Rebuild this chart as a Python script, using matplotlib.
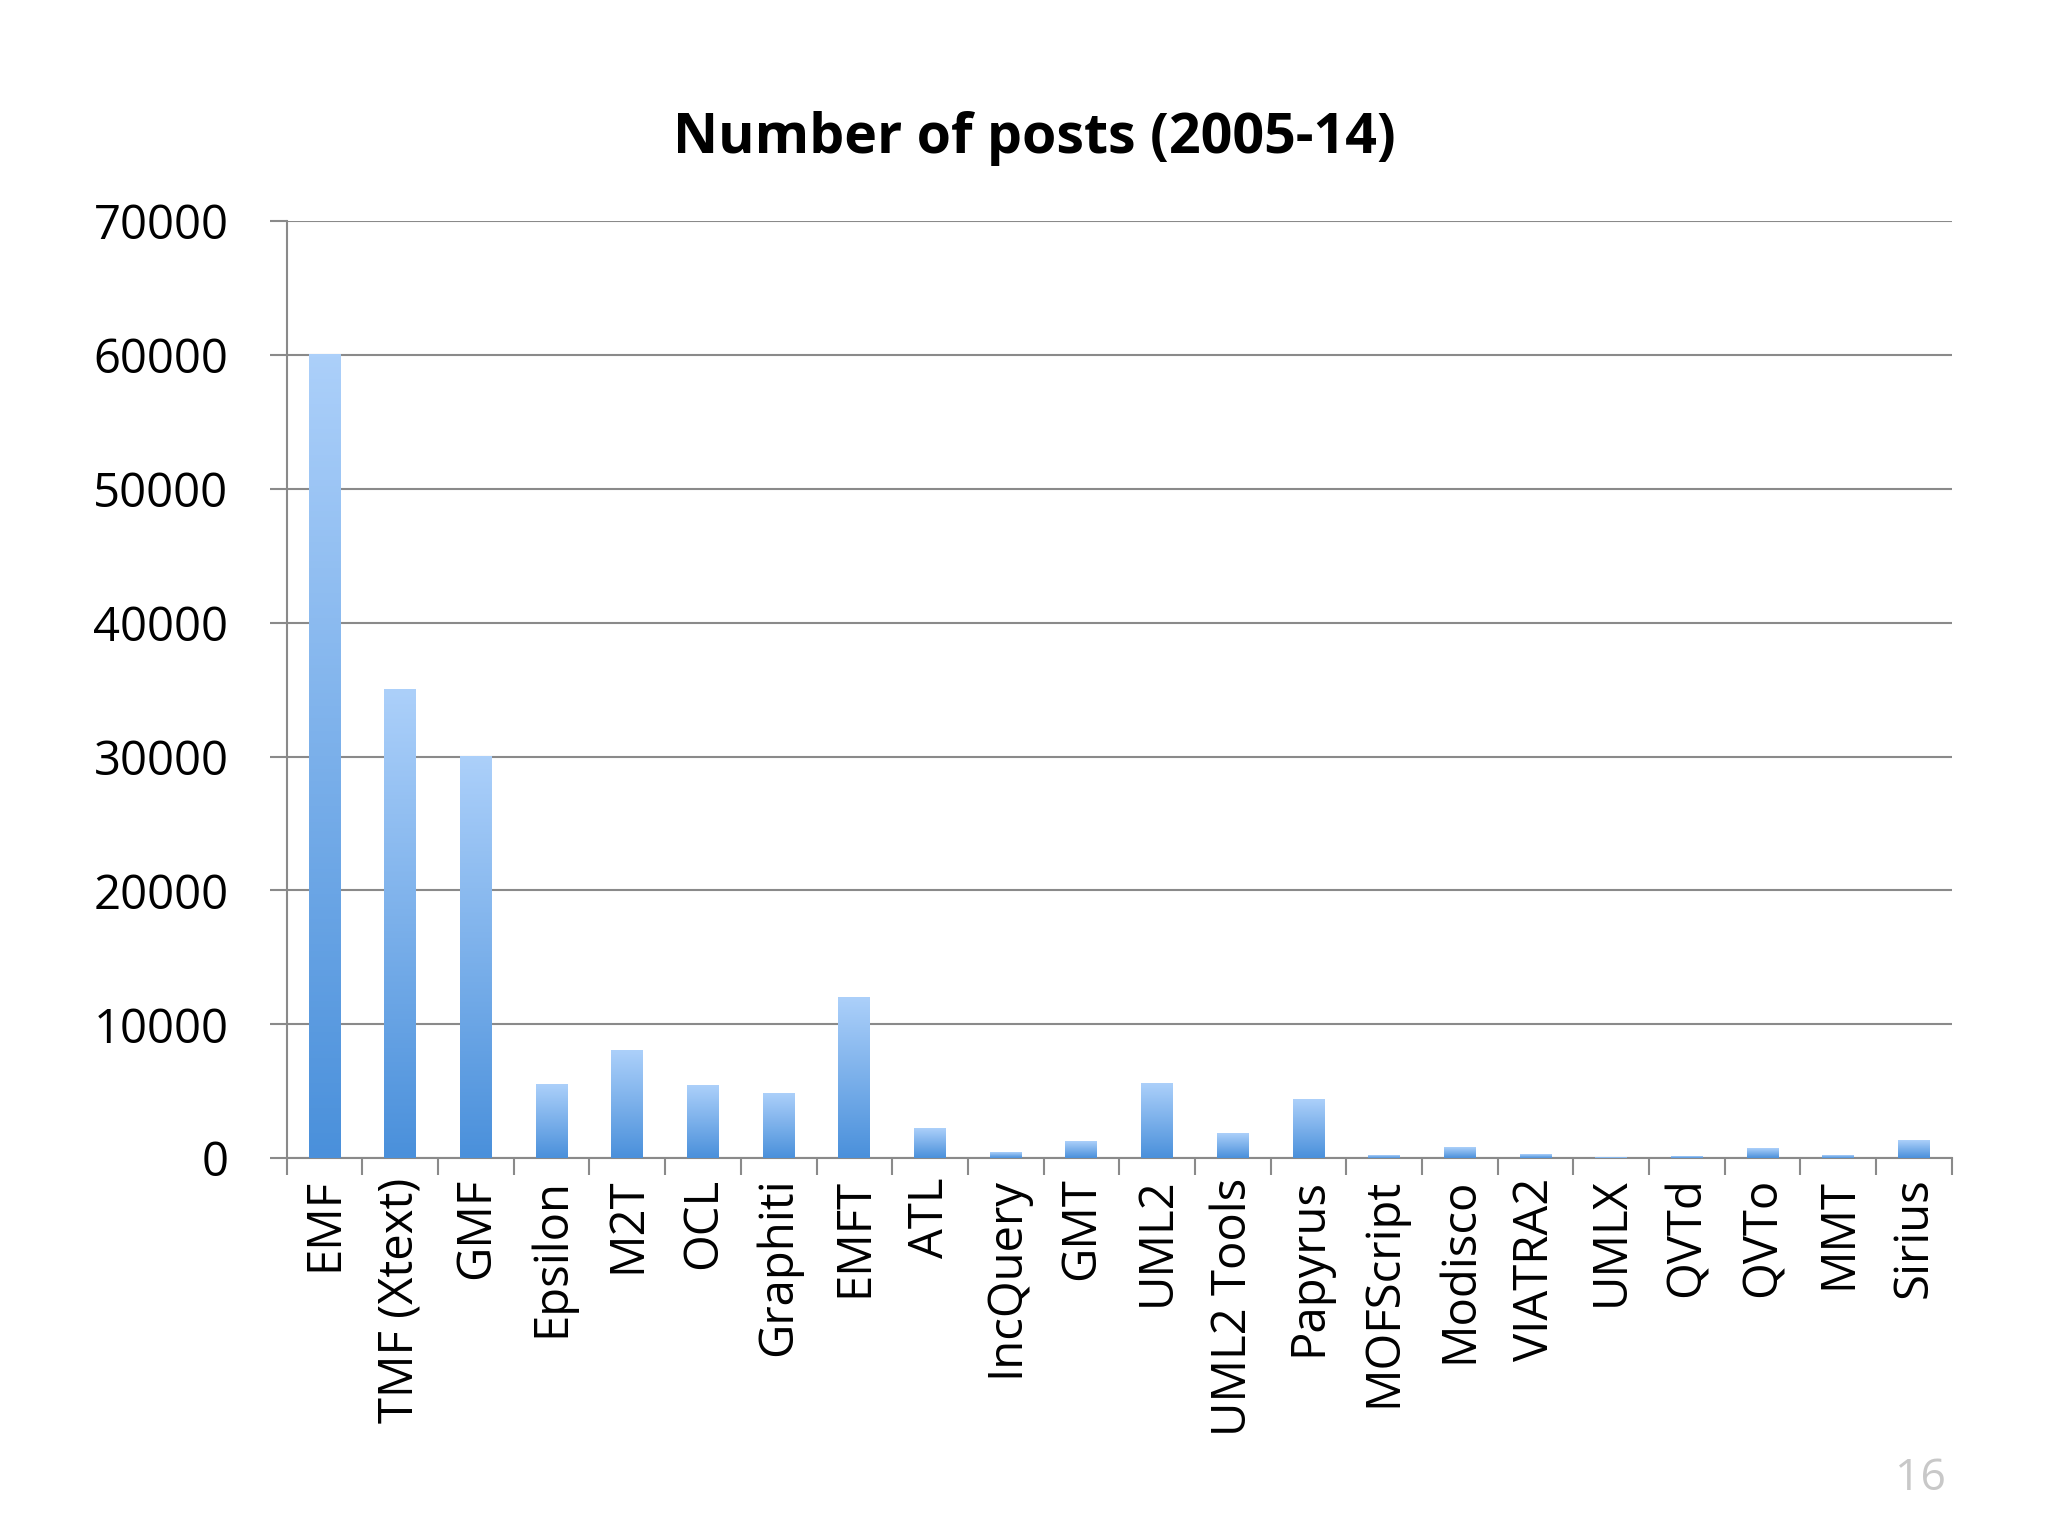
import matplotlib
matplotlib.use("Agg")
import matplotlib.pyplot as plt
import numpy as np
from matplotlib.colors import LinearSegmentedColormap

categories = ["EMF", "TMF (Xtext)", "GMF", "Epsilon", "M2T", "OCL", "Graphiti", "EMFT", "ATL",
              "IncQuery", "GMT", "UML2", "UML2 Tools", "Papyrus", "MOFScript", "Modisco",
              "VIATRA2", "UMLX", "QVTd", "QVTo", "MMT", "Sirius"]
values = [60000, 35000, 30000, 5500, 8000, 5400, 4800, 12000, 2200, 400, 1200, 5600, 1800,
          4400, 200, 800, 250, 50, 80, 700, 150, 1300]
yticks = [0, 10000, 20000, 30000, 40000, 50000, 60000, 70000]

plt.rcParams['font.family'] = ['Open Sans', 'DejaVu Sans']
fig = plt.figure(figsize=(20.48, 15.36), dpi=100)
ax = fig.add_axes([0.14, 0.246, 0.813, 0.61])
x = np.arange(len(categories))
bars = ax.bar(x, values, width=0.42, color='none', edgecolor='none', zorder=3)
cmap = LinearSegmentedColormap.from_list('g', ['#4a90db', '#acd0fa'])
grad = np.linspace(0, 1, 256).reshape(-1, 1)
for b in bars:
    x0, w, h = b.get_x(), b.get_width(), b.get_height()
    ax.imshow(grad, extent=[x0, x0 + w, 0, h], origin='lower', cmap=cmap,
              aspect='auto', zorder=3)
ax.set_xlim(-0.5, len(categories) - 0.5)
ax.set_ylim(0, 70000)
ax.set_yticks(yticks)
ax.set_yticklabels([str(v) for v in yticks], fontsize=34)
ax.yaxis.grid(True, color='#8a8a8a', linewidth=1.5, zorder=0)
ax.set_axisbelow(True)
ax.set_xticks(x)
ax.set_xticklabels(categories, rotation=90, fontsize=34)
ax.tick_params(axis='x', length=0, pad=14)
ax.set_xticks(np.arange(-0.5, len(categories)), minor=True)
ax.tick_params(axis='x', which='minor', length=12, width=1.5, color='#8a8a8a')
ax.tick_params(axis='y', length=12, width=1.5, color='#8a8a8a', pad=30)
for s in ['top', 'right']:
    ax.spines[s].set_visible(False)
for s in ['left', 'bottom']:
    ax.spines[s].set_color('#8a8a8a')
    ax.spines[s].set_linewidth(1.5)
fig.text(0.505, 0.91, "Number of posts (2005-14)", fontsize=40, fontweight='bold',
         ha='center', va='center')
fig.text(0.95, 0.03, "16", fontsize=32, color='#c8c8c8', ha='right')
fig.savefig("out.png", dpi=100)
